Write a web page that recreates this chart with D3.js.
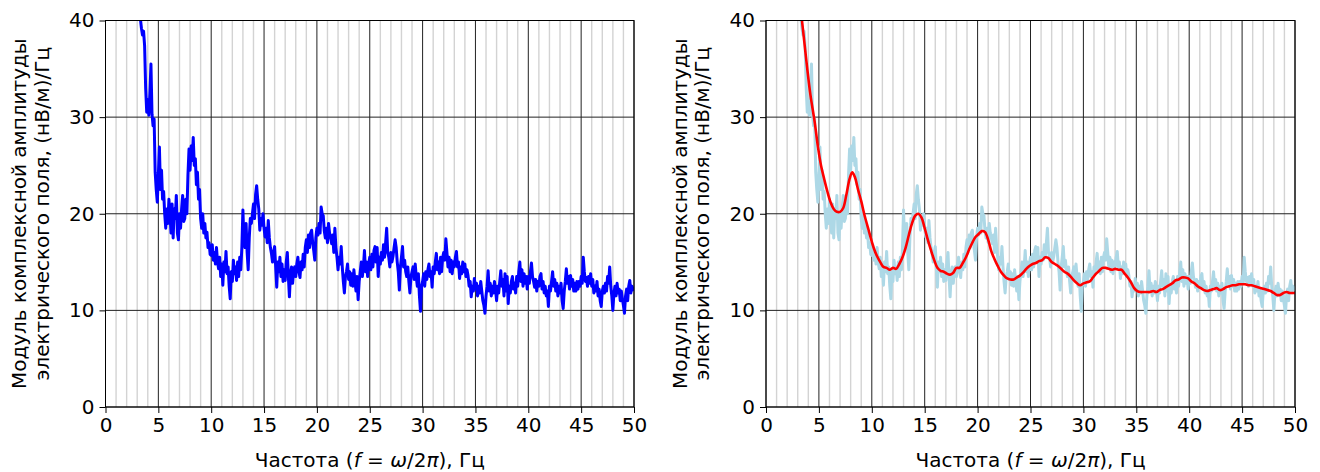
<!DOCTYPE html>
<html><head><meta charset="utf-8">
<script src="https://cdn.jsdelivr.net/npm/d3@7"></script>
<style>
html,body{margin:0;padding:0;background:#fff;}
svg text{font-family:"DejaVu Sans",sans-serif;fill:#000;}
</style></head>
<body>
<svg id="chart" width="1320" height="472"></svg>
<script>
// ---- data ----
const freqStart = 3.3;   // Hz, first sample of the spectrum
const freqStep = 0.1;    // Hz, sample spacing
// measured amplitude, one row per 1 Hz (first row 3.3–3.9 Hz, last 50.0 Hz)
const amplitudeRows = [
  [40.2, 39.2, 38.5, 38.9, 37.4, 33.0, 30.5],
  [31.8, 30.2, 32.5, 35.5, 30.3, 29.1, 29.8, 24.3, 22.5, 21.2],
  [24.0, 26.9, 22.5, 24.5, 21.5, 22.3, 20.0, 18.5, 20.5, 19.0],
  [21.5, 20.0, 18.0, 21.0, 17.5, 20.5, 19.5, 21.9, 18.0, 17.3],
  [20.0, 18.5, 20.5, 21.9, 19.2, 19.5, 21.5, 20.0, 24.0, 26.7],
  [24.5, 27.0, 25.5, 27.9, 25.0, 25.7, 23.0, 24.3, 21.5, 22.5],
  [19.5, 18.5, 20.0, 18.0, 19.0, 17.5, 18.1, 16.5, 17.0, 15.8],
  [15.7, 16.8, 15.2, 16.0, 14.8, 16.5, 15.0, 14.3, 15.5, 13.5],
  [14.8, 12.6, 15.0, 14.0, 16.1, 13.8, 14.5, 12.5, 11.2, 14.0],
  [13.0, 15.2, 13.8, 14.5, 13.1, 15.0, 13.5, 15.5, 14.2, 16.5],
  [20.4, 17.0, 16.5, 19.0, 16.0, 14.2, 17.5, 19.5, 19.0, 20.0],
  [21.0, 19.5, 22.0, 22.9, 21.5, 20.5, 18.3, 19.5, 18.8, 20.0],
  [18.5, 17.6, 18.5, 17.0, 19.3, 17.5, 16.5, 15.9, 15.0, 16.0],
  [16.6, 14.5, 12.4, 15.0, 14.0, 15.5, 13.5, 14.8, 13.0, 14.2],
  [13.1, 15.0, 16.0, 13.5, 11.4, 13.8, 14.5, 12.8, 14.0, 14.5],
  [13.5, 14.8, 15.5, 14.0, 13.4, 15.0, 14.2, 15.8, 14.5, 16.5],
  [17.3, 16.0, 17.8, 16.5, 18.0, 18.3, 17.0, 16.2, 15.2, 17.5],
  [18.5, 17.8, 19.0, 18.0, 20.7, 20.0, 19.8, 18.2, 17.5, 18.5],
  [17.0, 19.0, 18.0, 17.5, 16.9, 17.8, 16.0, 18.5, 16.5, 15.5],
  [14.2, 15.5, 14.8, 16.6, 14.5, 13.0, 11.8, 13.5, 14.0, 14.8],
  [13.2, 14.0, 12.6, 13.8, 12.5, 14.2, 13.0, 12.0, 13.5, 11.1],
  [13.0, 14.0, 15.0, 13.5, 14.5, 16.2, 14.0, 15.0, 13.5, 14.8],
  [15.5, 14.2, 15.8, 14.5, 16.2, 16.6, 15.0, 16.5, 13.5, 15.5],
  [14.8, 16.0, 15.2, 16.8, 15.5, 17.0, 18.5, 16.0, 15.5, 14.5],
  [16.0, 15.0, 15.6, 16.5, 17.3, 16.5, 15.0, 14.0, 12.1, 14.5],
  [15.5, 16.6, 14.5, 15.2, 14.0, 13.5, 14.5, 13.0, 11.8, 13.5],
  [14.0, 14.5, 13.2, 14.8, 13.5, 12.5, 13.8, 11.5, 9.9, 12.5],
  [13.0, 13.8, 12.5, 14.0, 13.2, 14.2, 14.8, 13.5, 14.0, 12.4],
  [14.5, 13.8, 15.0, 15.9, 14.2, 15.0, 13.8, 15.5, 14.0, 15.5],
  [16.0, 15.2, 17.4, 16.0, 14.5, 15.5, 14.0, 15.2, 13.8, 15.0],
  [14.5, 15.5, 16.1, 14.5, 15.0, 13.3, 14.5, 13.8, 15.0, 14.0],
  [14.8, 13.5, 14.2, 13.6, 12.5, 13.0, 11.4, 12.5, 12.0, 13.3],
  [12.2, 12.8, 11.5, 12.5, 11.8, 13.0, 12.0, 11.0, 10.5, 9.7],
  [11.5, 12.5, 14.1, 12.0, 12.8, 11.5, 12.5, 11.8, 13.0, 12.2],
  [11.0, 12.5, 11.8, 13.0, 14.1, 12.5, 13.2, 11.5, 13.8, 12.0],
  [13.5, 10.7, 12.5, 11.8, 13.0, 13.5, 12.2, 12.8, 11.8, 13.5],
  [12.5, 14.0, 15.0, 13.0, 14.2, 12.5, 13.8, 12.8, 13.5, 12.2],
  [13.5, 12.8, 14.0, 14.9, 13.5, 13.0, 12.4, 13.2, 12.0, 13.0],
  [12.5, 13.5, 13.8, 12.2, 13.0, 11.8, 12.5, 11.5, 12.0, 10.4],
  [12.5, 12.0, 13.0, 14.0, 12.5, 13.2, 12.0, 12.8, 11.5, 12.5],
  [11.8, 12.8, 11.0, 10.2, 12.0, 13.0, 14.3, 12.8, 13.5, 12.2],
  [13.6, 12.5, 13.2, 12.0, 12.8, 12.0, 13.0, 12.2, 13.0, 12.5],
  [13.5, 12.8, 15.5, 14.0, 13.0, 13.4, 12.5, 13.5, 12.8, 13.8],
  [12.5, 13.2, 11.8, 12.5, 12.0, 13.0, 11.5, 12.2, 11.0, 10.4],
  [12.0, 12.5, 11.8, 12.8, 12.0, 13.5, 12.8, 14.5, 12.5, 11.5],
  [10.0, 11.8, 12.5, 11.5, 12.8, 11.8, 12.2, 11.0, 12.0, 11.2],
  [10.5, 9.7, 11.5, 12.2, 11.0, 12.5, 13.1, 11.8, 12.5, 12.3],
  [12.0]
];
// smoothed amplitude (red curve)
const smoothFreq = [3.35,3.6,3.9,4.2,4.6,4.9,5.2,5.5,5.8,6.1,6.4,6.7,7.0,7.3,7.6,7.9,8.15,8.4,8.7,9.0,9.3,9.6,9.9,10.2,10.5,10.8,11.1,11.4,11.7,12.0,12.3,12.6,12.9,13.2,13.5,13.8,14.1,14.4,14.7,15.0,15.3,15.6,15.9,16.2,16.5,16.8,17.1,17.4,17.7,18.0,18.3,18.6,18.9,19.2,19.5,19.8,20.1,20.4,20.7,21.0,21.3,21.6,21.9,22.2,22.5,22.8,23.1,23.4,23.7,24.0,24.3,24.6,24.9,25.2,25.5,25.8,26.1,26.4,26.7,27.0,27.3,27.6,27.9,28.2,28.5,28.8,29.1,29.4,29.7,30.0,30.3,30.6,30.9,31.2,31.5,31.8,32.1,32.4,32.7,33.0,33.3,33.6,33.9,34.2,34.5,34.8,35.1,35.4,35.7,36.0,36.3,36.6,36.9,37.2,37.5,37.8,38.1,38.4,38.7,39.0,39.3,39.6,39.9,40.2,40.5,40.8,41.1,41.4,41.7,42.0,42.3,42.6,42.9,43.2,43.5,43.8,44.1,44.4,44.7,45.0,45.3,45.6,45.9,46.2,46.5,46.8,47.1,47.4,47.7,48.0,48.3,48.6,48.9,49.2,49.5,49.8,50.0];
const smoothAmp = [40.5,38.0,35.0,32.3,29.5,27.0,25.0,23.6,22.3,21.2,20.5,20.2,20.2,20.6,22.0,23.6,24.3,23.8,22.5,21.3,19.9,18.7,17.5,16.4,15.6,15.0,14.5,14.4,14.2,14.4,14.3,14.8,15.5,16.5,17.8,19.0,19.8,20.0,19.6,18.5,17.3,16.2,15.2,14.4,14.1,14.0,13.8,13.7,13.9,14.4,14.4,14.9,15.5,16.3,17.0,17.6,17.9,18.2,18.1,17.3,16.1,15.3,14.6,14.0,13.6,13.3,13.2,13.2,13.4,13.6,13.9,14.3,14.6,14.8,14.9,15.1,15.2,15.5,15.4,15.0,14.8,14.6,14.3,14.0,13.8,13.5,13.1,12.8,12.6,12.8,12.9,13.0,13.4,13.8,14.1,14.4,14.4,14.3,14.2,14.3,14.2,14.2,13.8,13.4,12.9,12.3,12.0,11.9,11.9,11.9,11.9,12.0,11.9,12.1,12.2,12.4,12.6,12.8,13.1,13.2,13.4,13.4,13.3,13.0,12.8,12.5,12.3,12.1,12.0,12.1,12.2,12.3,12.1,12.2,12.4,12.5,12.6,12.6,12.7,12.7,12.7,12.6,12.6,12.5,12.4,12.3,12.2,12.1,12.0,11.8,11.6,11.6,11.8,11.9,11.8,11.8,11.8];
const xTicks = [0,5,10,15,20,25,30,35,40,45,50];
const yTicks = [0,10,20,30,40];
const yLabelLines = ["Модуль комплексной амплитуды", "электрического поля, (нВ/м)/Гц"];

const amplitude = amplitudeRows.flat();
const freq = amplitude.map((_, i) => +(freqStart + i * freqStep).toFixed(2));
const raw = freq.map((f, i) => [f, amplitude[i]]);
const smooth = smoothFreq.map((f, i) => [f, smoothAmp[i]]);

// ---- drawing ----
const svg = d3.select("#chart");
const plotTop = 20.5, plotBottom = 407;
const y = d3.scaleLinear().domain([0, 40]).range([plotBottom, plotTop]);

function panel(id, x0, x1, layers) {
  const x = d3.scaleLinear().domain([0, 50]).range([x0, x1]);
  const g = svg.append("g");
  g.append("clipPath").attr("id", "clip" + id).append("rect")
    .attr("x", x0).attr("y", plotTop).attr("width", x1 - x0).attr("height", plotBottom - plotTop);
  // minor grid
  g.append("g").selectAll("line").data(d3.range(0, 51).filter(v => v % 5 !== 0)).join("line")
    .attr("x1", d => x(d)).attr("x2", d => x(d)).attr("y1", plotTop).attr("y2", plotBottom)
    .attr("stroke", "#d3d3d3").attr("stroke-width", 1.4);
  // major grid
  g.append("g").selectAll("line").data(xTicks).join("line")
    .attr("x1", d => x(d)).attr("x2", d => x(d)).attr("y1", plotTop).attr("y2", plotBottom)
    .attr("stroke", "#222").attr("stroke-width", 1);
  g.append("g").selectAll("line").data(yTicks).join("line")
    .attr("x1", x0).attr("x2", x1).attr("y1", d => y(d)).attr("y2", d => y(d))
    .attr("stroke", "#222").attr("stroke-width", 1);
  // data
  const plot = g.append("g").attr("clip-path", `url(#clip${id})`);
  layers.forEach(L => {
    const line = d3.line().x(d => x(d[0])).y(d => y(d[1]));
    if (L.curve) line.curve(L.curve);
    plot.append("path").datum(L.data).attr("d", line).attr("fill", "none")
      .attr("stroke", L.color).attr("stroke-width", L.width)
      .attr("stroke-linejoin", "round").attr("stroke-linecap", "butt");
  });
  // frame
  g.append("rect").attr("x", x0).attr("y", plotTop).attr("width", x1 - x0).attr("height", plotBottom - plotTop)
    .attr("fill", "none").attr("stroke", "#000").attr("stroke-width", 1);
  // axes
  const xa = g.append("g").attr("transform", `translate(0,${plotBottom})`)
    .call(d3.axisBottom(x).tickValues(xTicks).tickSize(6).tickPadding(5).tickFormat(d3.format("d")));
  const ya = g.append("g").attr("transform", `translate(${x0},0)`)
    .call(d3.axisLeft(y).tickValues(yTicks).tickSize(6).tickPadding(5).tickFormat(d3.format("d")));
  [xa, ya].forEach(a => {
    a.select(".domain").remove();
    a.selectAll("text").style("font-size", "20px").style("font-family", '"DejaVu Sans"');
    a.selectAll(".tick line").attr("stroke", "#000");
  });
  // x label
  const xl = g.append("text").attr("x", (x0 + x1) / 2).attr("y", 467)
    .attr("text-anchor", "middle").style("font-size", "20px");
  xl.append("tspan").text("Частота (");
  xl.append("tspan").style("font-style", "italic").text("f");
  xl.append("tspan").text(" = ");
  xl.append("tspan").style("font-style", "italic").text("ω");
  xl.append("tspan").text("/2");
  xl.append("tspan").style("font-style", "italic").text("π");
  xl.append("tspan").text("), Гц");
  // y label
  const cy = (plotTop + plotBottom) / 2;
  yLabelLines.forEach((t, i) => {
    const cx = x0 - 79.5 + i * 22.5;
    g.append("text").attr("transform", `translate(${cx},${cy}) rotate(-90)`)
      .attr("text-anchor", "middle").style("font-size", "20px").text(t);
  });
}

panel("L", 105.5, 634, [
  { data: raw, color: "#0000ff", width: 3 }
]);
panel("R", 766, 1295, [
  { data: raw, color: "#add8e6", width: 3 },
  { data: smooth, color: "#ff0000", width: 2.6, curve: d3.curveCatmullRom }
]);
</script>
</body></html>
